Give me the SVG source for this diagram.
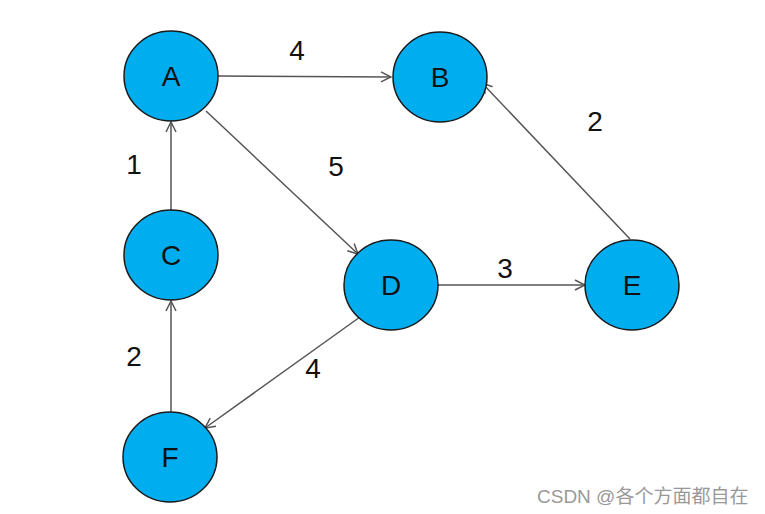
<svg xmlns="http://www.w3.org/2000/svg" width="765" height="514" viewBox="0 0 765 514">
<style>
.n ellipse{fill:#00AEEF;stroke:#1a1a1a;stroke-width:1.5}
.n text{font-family:"Liberation Sans",Arial,sans-serif;font-size:28px;fill:#111;text-anchor:middle}
.e line{stroke:#555;stroke-width:1.5;marker-end:url(#arr)}
.lb{font-family:"Liberation Sans",Arial,sans-serif;font-size:28px;fill:#111;text-anchor:middle}
.wm{font-family:"Liberation Sans","Noto Sans CJK SC",sans-serif;font-size:19px;fill:#999}
</style>
<defs>
<marker id="arr" viewBox="0 0 12 12" refX="11" refY="6" markerWidth="12" markerHeight="12" markerUnits="userSpaceOnUse" orient="auto">
<path d="M1,1 L11,6 L1,11" fill="none" stroke="#555" stroke-width="1.5"/>
</marker>
</defs>
<rect width="765" height="514" fill="#fff"/>
<g id="edges" class="e">
<line x1="218" y1="76" x2="391" y2="77"/>
<line x1="206" y1="111" x2="358" y2="254"/>
<line x1="171" y1="210" x2="171" y2="122"/>
<line x1="171" y1="412" x2="171" y2="301"/>
<line x1="438" y1="285" x2="585" y2="285"/>
<line x1="630" y1="239" x2="482" y2="83"/>
<line x1="360" y1="317" x2="205" y2="428"/>
</g>
<g id="labels">
<text class="lb" x="297" y="60">4</text>
<text class="lb" x="336" y="176">5</text>
<text class="lb" x="134" y="174">1</text>
<text class="lb" x="134" y="366">2</text>
<text class="lb" x="505" y="278">3</text>
<text class="lb" x="595" y="131">2</text>
<text class="lb" x="313" y="378">4</text>
</g>
<g id="A" class="n"><ellipse cx="171" cy="76" rx="47" ry="45"/><text x="171" y="86">A</text></g>
<g id="B" class="n"><ellipse cx="440" cy="77" rx="47" ry="45"/><text x="440" y="87">B</text></g>
<g id="C" class="n"><ellipse cx="171" cy="255" rx="47" ry="45"/><text x="171" y="265">C</text></g>
<g id="D" class="n"><ellipse cx="391" cy="285" rx="47" ry="45"/><text x="391" y="295">D</text></g>
<g id="E" class="n"><ellipse cx="632" cy="285" rx="47" ry="45"/><text x="632" y="295">E</text></g>
<g id="F" class="n"><ellipse cx="170" cy="457" rx="47" ry="45"/><text x="170" y="467">F</text></g>
<text class="wm" x="537" y="503">CSDN @各个方面都自在</text>
</svg>
